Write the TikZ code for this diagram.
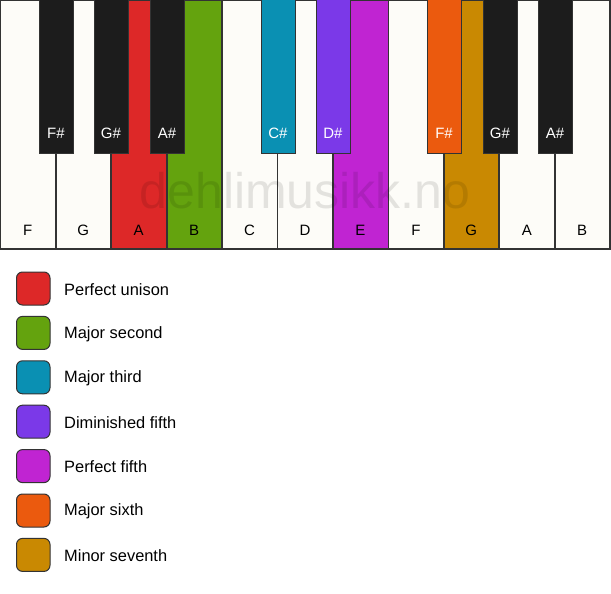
\documentclass[tikz,border=0pt]{standalone}
\usepackage{fontspec}
\setmainfont{Liberation Sans}
\definecolor{keywhite}{HTML}{FDFCF8}
\definecolor{keyblack}{HTML}{1C1C1C}
\definecolor{cunison}{HTML}{DD2828}
\definecolor{csecond}{HTML}{64A30E}
\definecolor{cthird}{HTML}{0A90B3}
\definecolor{cdimfifth}{HTML}{7B39E8}
\definecolor{cfifth}{HTML}{C024D2}
\definecolor{csixth}{HTML}{EB5A0E}
\definecolor{cseventh}{HTML}{C98902}
\definecolor{edge}{HTML}{333333}
\begin{document}
\begin{tikzpicture}[x=1pt,y=-1pt,
  whitekey/.style={draw=edge,line width=1.2pt,fill=keywhite},
  blackkey/.style={draw=edge,line width=1pt,fill=keyblack},
  wlabel/.style={font=\fontsize{15}{15}\selectfont,text=black},
  blabel/.style={font=\fontsize{15}{15}\selectfont,text=white},
  legbox/.style={draw=edge,line width=1pt,rounded corners=6pt},
  legtext/.style={font=\fontsize{16.4}{16.4}\selectfont,anchor=west,inner sep=0pt}]
\useasboundingbox (0,0) rectangle (611,594);
\fill[white] (0,0) rectangle (611,594);
% white keys
\foreach \i/\n/\c in {0/F/keywhite,1/G/keywhite,2/A/cunison,3/B/csecond,4/C/keywhite,5/D/keywhite,6/E/cfifth,7/F/keywhite,8/G/cseventh,9/A/keywhite,10/B/keywhite}{
  \draw[whitekey,fill=\c] ({\i*55.45+0.6},0.6) rectangle ({(\i+1)*55.45},249);
  \node[wlabel] (w\i) at ({\i*55.45+27.7},230) {\n};
}
% watermark
\node[font=\fontsize{50}{50}\selectfont,text=black,text opacity=0.1] (wm) at (305,191) {dehlimusikk.no};
% black keys
\foreach \k/\x/\n/\c in {0/39/F\#/keyblack,1/94/G\#/keyblack,2/150/A\#/keyblack,3/261/C\#/cthird,4/316/D\#/cdimfifth,5/427/F\#/csixth,6/483/G\#/keyblack,7/538/A\#/keyblack}{
  \draw[blackkey,fill=\c] (\x,0) rectangle ({\x+34},153);
  \node[blabel] (b\k) at ({\x+17},133) {\n};
}
% legend
\foreach \j/\c/\t in {0/cunison/Perfect unison,1/csecond/Major second,2/cthird/Major third,3/cdimfifth/Diminished fifth,4/cfifth/Perfect fifth,5/csixth/Major sixth,6/cseventh/Minor seventh}{
  \draw[legbox,fill=\c] (16.5,{272+44.4*\j}) rectangle (50,{305+44.4*\j});
  \node[legtext] (l\j) at (64,{289.5+44.4*\j}) {\t};
}
\end{tikzpicture}
\end{document}
